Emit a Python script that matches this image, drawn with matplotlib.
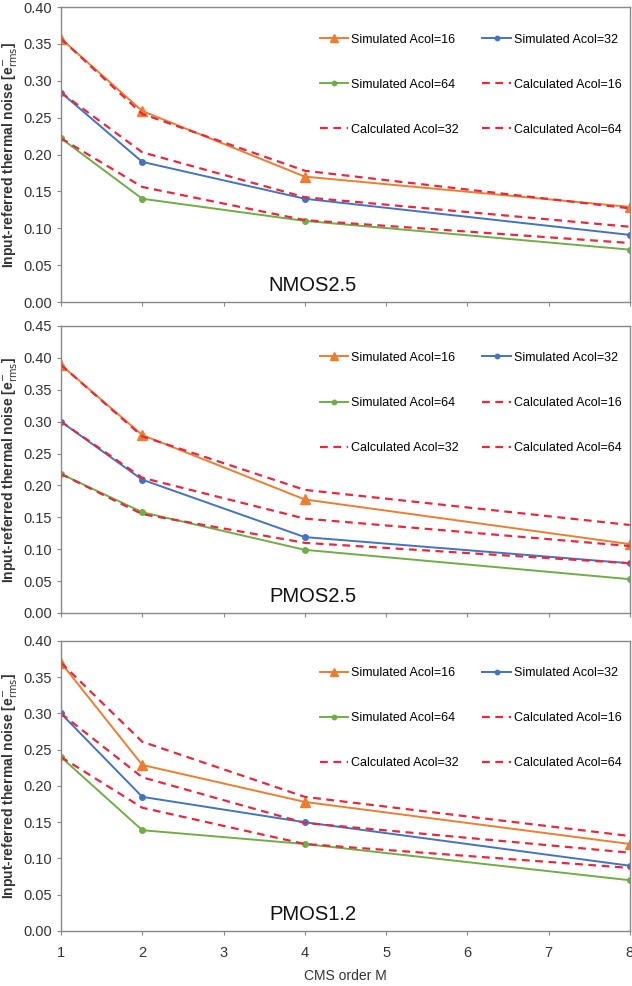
import matplotlib
matplotlib.use("Agg")
import matplotlib.pyplot as plt

plt.rcParams['font.family'] = ['Liberation Sans', 'DejaVu Sans']

# CMS order M
m_order = [1, 2, 4, 8]
x_ticks = [1, 2, 3, 4, 5, 6, 7, 8]

# NMOS2.5
nmos25_sim16 = [0.357, 0.259, 0.170, 0.129]
nmos25_sim32 = [0.284, 0.190, 0.140, 0.091]
nmos25_sim64 = [0.222, 0.140, 0.110, 0.071]
nmos25_calc16 = [0.357, 0.255, 0.178, 0.127]
nmos25_calc32 = [0.284, 0.203, 0.142, 0.102]
nmos25_calc64 = [0.222, 0.156, 0.111, 0.080]

# PMOS2.5
pmos25_sim16 = [0.389, 0.279, 0.178, 0.108]
pmos25_sim32 = [0.300, 0.209, 0.119, 0.078]
pmos25_sim64 = [0.218, 0.158, 0.099, 0.053]
pmos25_calc16 = [0.389, 0.277, 0.193, 0.138]
pmos25_calc32 = [0.300, 0.212, 0.148, 0.105]
pmos25_calc64 = [0.218, 0.155, 0.110, 0.078]

# PMOS1.2
pmos12_sim16 = [0.370, 0.229, 0.178, 0.120]
pmos12_sim32 = [0.300, 0.185, 0.150, 0.090]
pmos12_sim64 = [0.240, 0.139, 0.120, 0.070]
pmos12_calc16 = [0.370, 0.261, 0.185, 0.131]
pmos12_calc32 = [0.300, 0.212, 0.149, 0.108]
pmos12_calc64 = [0.240, 0.170, 0.120, 0.087]

panels = [
    ("NMOS2.5", 0.40, [0, 0.05, 0.10, 0.15, 0.20, 0.25, 0.30, 0.35, 0.40],
     nmos25_sim16, nmos25_sim32, nmos25_sim64, nmos25_calc16, nmos25_calc32, nmos25_calc64),
    ("PMOS2.5", 0.45, [0, 0.05, 0.10, 0.15, 0.20, 0.25, 0.30, 0.35, 0.40, 0.45],
     pmos25_sim16, pmos25_sim32, pmos25_sim64, pmos25_calc16, pmos25_calc32, pmos25_calc64),
    ("PMOS1.2", 0.40, [0, 0.05, 0.10, 0.15, 0.20, 0.25, 0.30, 0.35, 0.40],
     pmos12_sim16, pmos12_sim32, pmos12_sim64, pmos12_calc16, pmos12_calc32, pmos12_calc64),
]

# axes boxes in figure fractions [left, bottom, width, height]
boxes = [
    [0.0965, 0.6937, 0.900, 0.2992],
    [0.0965, 0.3783, 0.900, 0.2911],
    [0.0965, 0.0558, 0.900, 0.2941],
]

c_orange = '#ED7D31'
c_blue = '#4472C4'
c_green = '#70AD47'
c_red = '#E8283C'
dash = (0, (3.5, 2.5))

fig = plt.figure(figsize=(6.32, 9.86), dpi=100)

for i, (name, ymax, yt, s16, s32, s64, c16, c32, c64) in enumerate(panels):
    ax = fig.add_axes(boxes[i])
    h1, = ax.plot(m_order, s16, color=c_orange, lw=1.4, marker='^', ms=7, label='Simulated Acol=16')
    h2, = ax.plot(m_order, s32, color=c_blue, lw=1.4, marker='o', ms=4, label='Simulated Acol=32')
    h3, = ax.plot(m_order, s64, color=c_green, lw=1.4, marker='o', ms=4, label='Simulated Acol=64')
    h4, = ax.plot(m_order, c16, color=c_red, lw=1.6, ls=dash, label='Calculated Acol=16')
    h5, = ax.plot(m_order, c32, color=c_red, lw=1.6, ls=dash, label='Calculated Acol=32')
    h6, = ax.plot(m_order, c64, color=c_red, lw=1.6, ls=dash, label='Calculated Acol=64')

    ax.set_xlim(1, 8)
    ax.set_ylim(0, ymax)
    ax.set_xticks(x_ticks)
    ax.set_yticks(yt)
    ax.set_yticklabels([f"{v:.2f}" for v in yt])
    if i < 2:
        ax.set_xticklabels([])
    else:
        ax.set_xlabel("CMS order M", fontsize=10, color='#333333', labelpad=6)
    ax.tick_params(direction='out', length=3, labelsize=10.5, colors='#888888',
                   labelcolor='#333333', width=0.8)
    ax.tick_params(axis='x', pad=8)
    for sp in ax.spines.values():
        sp.set_color('#888888')
        sp.set_linewidth(1.0)
    ax.set_ylabel(r'Input-referred thermal noise [e$^{-}_{\rm rms}$]', fontsize=10,
                  fontweight='bold', color='#333333', labelpad=3)

    ax.text(4.1, ymax * 0.025, name, fontsize=14.5, ha='center', va='bottom', color='#111111')

    # legend is filled column by column, so order the handles to read row-wise
    hs = [h1, h3, h5, h2, h4, h6]
    ax.legend(hs, [h.get_label() for h in hs], ncol=2, loc='upper right',
              bbox_to_anchor=(0.985, 0.91), frameon=False,
              fontsize=9, labelspacing=2.65, columnspacing=1.9, handlelength=2.3,
              handletextpad=0.2, borderpad=0, borderaxespad=0, markerscale=0.8)

fig.savefig("out.png", dpi=100)
